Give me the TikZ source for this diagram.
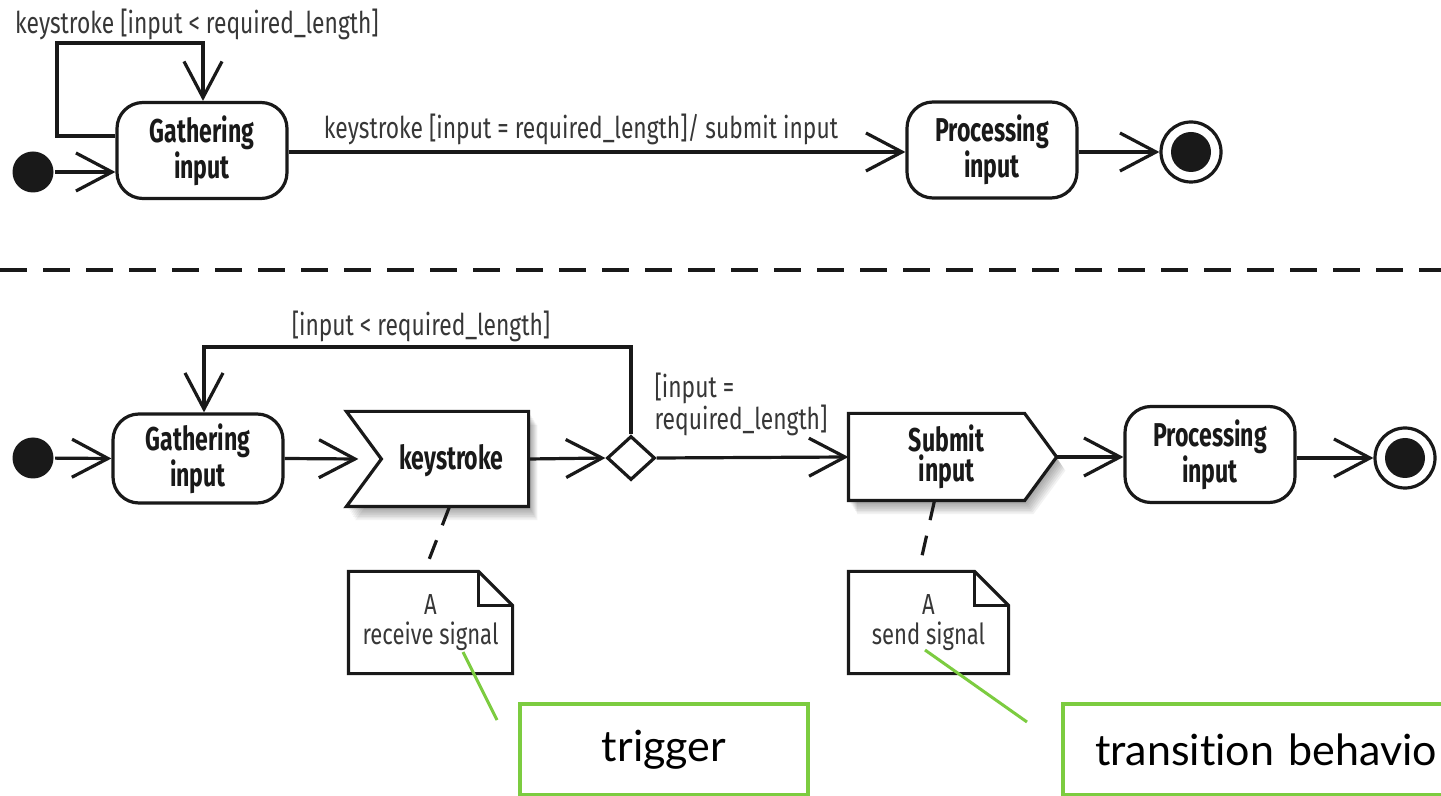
\documentclass[tikz,border=0pt]{standalone}
\usepackage{fontspec}
\usetikzlibrary{arrows.meta,shapes.geometric,calc}
\newfontfamily\umlfont[FakeStretch=0.76]{Fira Sans}
\newfontfamily\umlbf[FakeStretch=0.70]{Fira Sans}
\newfontfamily\callfont[Ligatures=NoCommon]{Lato}
\definecolor{callgreen}{RGB}{124,204,64}
\definecolor{ink}{RGB}{25,25,25}
\definecolor{labelink}{RGB}{55,55,55}

\begin{document}
\begin{tikzpicture}[x=0.5pt,y=-0.5pt,line width=1.6pt,draw=ink,
  arr/.style={-{Straight Barb[length=18pt,width=19pt,line width=1.6pt]}},
  boldtext/.style={font=\umlbf\bfseries\fontsize{16.5}{15}\selectfont,text=ink},
  state/.style={draw,rounded corners=13pt,minimum width=85pt,minimum height=48pt,
    align=center,inner sep=0pt,boldtext},
  initst/.style={circle,fill=ink,draw=none,minimum size=20.5pt,inner sep=0pt},
  finalst/.style={circle,draw,minimum size=30pt,inner sep=0pt,
    path picture={\fill[ink] (path picture bounding box.center) circle (10pt);}},
  sigbox/.style={minimum width=#1,minimum height=46pt,inner sep=0pt},
  sigtext/.style={boldtext,align=center},
  choice/.style={diamond,draw,fill=white,minimum width=24pt,minimum height=22pt,inner sep=0pt},
  notebox/.style={minimum width=80.5pt,minimum height=49.5pt,inner sep=0pt,align=center,
    font=\umlfont\fontsize{14.5}{15}\selectfont,text=labelink},
  edgelabel/.style={font=\umlfont\fontsize{15}{15}\selectfont,text=labelink,inner sep=0pt},
  notelink/.style={dash pattern=on 10pt off 8pt},
  callout/.style={draw=callgreen,line width=2pt,fill=white,minimum height=45.5pt,
    font=\callfont\fontsize{21.5}{24}\selectfont,text=black},
  pointer/.style={draw=callgreen,line width=1.5pt}
]
\useasboundingbox (0,0) rectangle (1441,796);
\clip (0,0) rectangle (1441,796);
\fill[white] (0,0) rectangle (1441,796);

% ---------- upper machine: state diagram ----------
\node[initst] (init1) at (33,172) {};
\node[state] (gi1) at (202,150.5) {Gathering\\input};
\node[state] (pi1) at (992,150) {Processing\\input};
\node[finalst] (fin1) at (1191,152) {};

\node[edgelabel] (lbl1) at (197,24) {keystroke [input < required\_length]};
\node[edgelabel] (lbl2) at (581,129) {keystroke [input = required\_length]/ submit input};

\draw[arr] (init1) -- (init1 -| gi1.west);
\draw[arr] (gi1.west |- 0,136) -- (57,136) -- (57,43) -- (203,43) -- (gi1.north -| 203,0);
\draw[arr] (gi1.east |- 0,152) -- (pi1.west |- 0,152);
\draw[arr] (pi1.east |- 0,152) -- (fin1.west);

% ---------- separator ----------
\draw[line width=1.7pt,dash pattern=on 13.5pt off 8pt] (0,270) -- (1441,270);

% ---------- lower machine: activity diagram ----------
\node[initst] (init2) at (33,458) {};
\node[state,minimum height=44.5pt] (gi2) at (198,458.5) {Gathering\\input};
\node[sigbox=89.5pt] (ks) at (437.5,459) {};
\node[choice] (dm) at (631,458) {};
\node[sigbox=102.5pt,minimum height=42pt] (sub) at (952.5,457) {};
\node[state] (pi2) at (1210,454.5) {Processing\\input};
\node[finalst] (fin2) at (1405,458) {};

% shadows of the signal shapes
\foreach \k in {1,...,8}{
  \fill[black,opacity=0.05,transform canvas={shift={(\k*0.55pt,-\k*0.85pt)}}]
    (ks.north west) -- (ks.north east) -- (ks.south east) -- (ks.south west)
    -- ($(ks.west)+(17.5pt,0)$) -- cycle;
  \fill[black,opacity=0.05,transform canvas={shift={(\k*0.55pt,-\k*0.85pt)}}]
    (sub.north west) -- ($(sub.north east)+(-16pt,0)$) -- (sub.east)
    -- ($(sub.south east)+(-16pt,0)$) -- (sub.south west) -- cycle;
}
% accept-signal shape
\draw[fill=white] (ks.north west) -- (ks.north east) -- (ks.south east) -- (ks.south west)
  -- ($(ks.west)+(17.5pt,0)$) -- cycle;
\node[sigtext] (kst) at ($(ks.center)+(7pt,-1pt)$) {keystroke};
% send-signal shape
\draw[fill=white] (sub.north west) -- ($(sub.north east)+(-16pt,0)$) -- (sub.east)
  -- ($(sub.south east)+(-16pt,0)$) -- (sub.south west) -- cycle;
\node[sigtext] (subt) at ($(sub.center)+(-3pt,0)$) {Submit\\input};

\node[edgelabel] (lbl3) at (421,326) {[input < required\_length]};
\node[edgelabel,align=left,anchor=north west] (lbl4) at (653,371) {[input =\\required\_length]};

\draw[arr] (init2) -- (gi2.west);
\draw[arr] (gi2.east) -- ($(ks.west)+(6pt,0)$);
\draw[arr] (ks.east) -- (dm.west);
\draw[arr] (dm.north) -- (dm.north |- 0,347) -- (204,347) -- (gi2.north -| 204,0);
\draw[arr] (dm.east) -- (sub.west);
\draw[arr] (sub.east) -- (pi2.west |- sub.east);
\draw[arr] (pi2.east |- 0,458) -- (fin2.west);

% ---------- notes ----------
\node[notebox] (n1) at (430.5,622.5) {A\\receive signal};
\node[notebox,minimum width=78.5pt] (n2) at (928.5,622.5) {A\\send signal};
\foreach \n in {n1,n2}{
  \draw (\n.north west) -- ($(\n.north east)+(-17pt,0)$) -- ($(\n.north east)+(0,-17pt)$)
    -- (\n.south east) -- (\n.south west) -- cycle;
  \draw ($(\n.north east)+(-17pt,0)$) -- ($(\n.north east)+(-17pt,-17pt)$) -- ($(\n.north east)+(0,-17pt)$);
}
\draw[notelink] ($(ks.south)+(6pt,0)$) -- ($(n1.north)+(-3pt,0)$);
\draw[notelink] ($(sub.south)+(-9pt,0)$) -- ($(n2.north)+(-5pt,0)$);

% ---------- call-outs ----------
\node[callout,minimum width=144pt] (gb1) at (664,749.5) {trigger};
\node[callout,minimum width=228.5pt,text width=196.5pt,inner xsep=16pt,align=left] (gb2) at (1291.5,749.5) {transition behavio};
\coordinate (p1a) at (463,652);
\coordinate (p1b) at (497,720);
\coordinate (p2a) at (925,650);
\coordinate (p2b) at (1027,722);
\draw[pointer] (p1a) -- (p1b);
\draw[pointer] (p2a) -- (p2b);
\end{tikzpicture}
\end{document}
